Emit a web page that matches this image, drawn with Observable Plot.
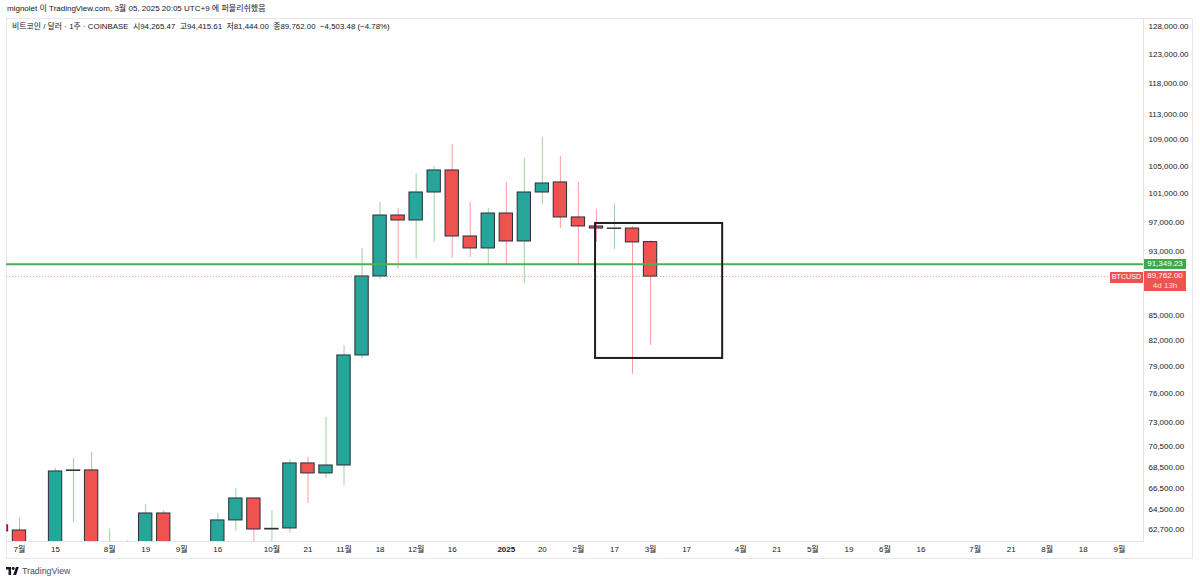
<!DOCTYPE html>
<html lang="ko">
<head>
<meta charset="utf-8">
<script src="https://cdn.jsdelivr.net/npm/d3@7"></script>
<script src="https://cdn.jsdelivr.net/npm/@observablehq/plot@0.6"></script>
<style>
  html, body { margin: 0; width: 1200px; height: 583px; overflow: hidden; background: #fff; }
  body { position: relative; font-family: "Liberation Sans", "Noto Sans CJK KR", sans-serif; color: #131722; }
  #byline { position: absolute; left: 7px; top: 4px; font-size: 8px; line-height: 10px; white-space: nowrap; }
  #chart { position: absolute; left: 6px; top: 18px; width: 1187px; height: 541px; outline: 1px solid #e6e9f0; outline-offset: -1px; }
  #legend { position: absolute; left: 6px; top: 4px; font-size: 7.9px; line-height: 10px; white-space: nowrap; }
  .tag { position: absolute; color: #fff; font-size: 8px; line-height: 10px; text-align: center; white-space: nowrap; }
  #footer { position: absolute; left: 6px; top: 565px; height: 12px; display: flex; align-items: center; gap: 3px; font-size: 8.8px; color: #4a4e59; }
</style>
</head>
<body>
<div id="byline">mignolet 이 TradingView.com, 3월 05, 2025 20:05 UTC+9 에 퍼블리쉬했음</div>
<div id="chart">
  <div id="legend">비트코인 / 달러 · 1주 · COINBASE &nbsp;시94,265.47 &nbsp;고94,415.61 &nbsp;저81,444.00 &nbsp;종89,762.00 &nbsp;−4,503.48 (−4.78%)</div>
</div>
<div id="footer">
  <svg width="13" height="8" viewBox="0 0 36 22"><path fill="#131722" d="M14 22H7V7H0V0h14v22zM28 22h-8L27.5 0h8L28 22z"/><circle fill="#131722" cx="20" cy="4" r="4"/></svg>
  <span>TradingView</span>
</div>
<script>
// weekly candles (week index, 0 = first "7월" label)
const week  = [-1, 0, 2, 3, 4, 5, 6, 7, 8, 11, 12, 13, 14, 15, 16, 17, 18, 19, 20, 21, 22, 23, 24, 25, 26, 27, 28, 29, 30, 31, 32, 33, 34, 35];
const open  = [63060, 62610, 57500, 68130, 68180, 58000, 59000, 58000, 64140, 58000, 63510, 65520, 62700, 62790, 68860, 67890, 68660, 80260, 89780, 97890, 97200, 101140, 104350, 95020, 93420, 98170, 94350, 101140, 102590, 97620, 96380, 96050, 96100, 94265.47];
const high  = [63300, 63780, 68370, 69350, 69940, 62700, 61730, 64960, 64410, 64140, 66460, 65520, 64410, 69250, 69450, 73500, 81400, 93420, 99720, 98870, 103900, 104940, 108270, 99720, 98870, 102590, 106140, 109350, 106440, 102590, 98730, 99430, 96380, 94415.61];
const low   = [62000, 55000, 55000, 63330, 58000, 55000, 55000, 56000, 56000, 56000, 62530, 60000, 58000, 62350, 65060, 67410, 66740, 79900, 89400, 90680, 91970, 94220, 92100, 92230, 91190, 91190, 88890, 99430, 96100, 91190, 94220, 93280, 78120, 81444];
const close = [62530, 57500, 68080, 68180, 60000, 60000, 58000, 64140, 58500, 63510, 65520, 62700, 62760, 68860, 67890, 68660, 80260, 89780, 97890, 97200, 101140, 104350, 95020, 93420, 98170, 94350, 101140, 102440, 97620, 96380, 96100, 96100, 94220, 89762];

const priceTicks = [128000, 123000, 118000, 113000, 109000, 105000, 101000, 97000, 93000, 85000, 82000, 79000, 76000, 73000, 70500, 68500, 66500, 64500, 62700];
const timeTicks  = [0, 2, 5, 7, 9, 11, 14, 16, 18, 20, 22, 24, 29, 31, 33, 35, 37, 40, 42, 44, 46, 48, 50, 53, 55, 57, 59, 61];
const timeLabels = ["7월", "15", "8월", "19", "9월", "16", "10월", "21", "11월", "18", "12월", "16", "20", "2월", "17", "3월", "17", "4월", "21", "5월", "19", "6월", "16", "7월", "21", "8월", "18", "9월"];
const yearTick = [27];
const yearLabel = ["2025"];

const supportLine = 91349.23;
const lastPrice = 89762;
const boxWeeks = [31.95, 39];
const boxPrices = [96790, 79920];

const candles = week.map((w, i) => ({w, open: open[i], high: high[i], low: low[i], close: close[i]}));
const up = candles.filter(d => d.close >= d.open);
const down = candles.filter(d => d.close < d.open);
const halfBody = 0.37;

const GREEN = "#26a69a", RED = "#ef5350", OUTLINE = "#2a2e39";

function wicks(data, colour) {
  return Plot.ruleX(data, {x: "w", y1: "low", y2: "high", stroke: colour, strokeOpacity: 0.55, strokeWidth: 1, clip: true});
}
function bodies(data, colour) {
  return Plot.rect(data, {
    x1: d => d.w - halfBody, x2: d => d.w + halfBody,
    y1: "open", y2: "close",
    fill: colour, stroke: OUTLINE, strokeWidth: 1, clip: true
  });
}

const plot = Plot.plot({
  width: 1187, height: 541,
  marginTop: 0, marginBottom: 18, marginLeft: 0, marginRight: 50,
  style: {fontSize: "8px", fontFamily: '"Liberation Sans", "Noto Sans CJK KR", sans-serif', color: "#131722", background: "transparent"},
  x: {type: "linear", domain: [-0.72, 62.34]},
  y: {type: "log", domain: [61640, 129460]},
  marks: [
    Plot.frame({anchor: "right", stroke: "#e0e3eb"}),
    Plot.frame({anchor: "bottom", stroke: "#e0e3eb"}),
    wicks(up, "#4caf50"),
    wicks(down, RED),
    bodies(up, GREEN),
    bodies(down, RED),
    Plot.ruleY([lastPrice], {stroke: RED, strokeOpacity: 0.6, strokeDasharray: "1,2"}),
    Plot.ruleY([supportLine], {stroke: "#4caf50", strokeWidth: 2}),
    Plot.rect([0], {x1: boxWeeks[0], x2: boxWeeks[1], y1: boxPrices[0], y2: boxPrices[1], fill: "none", stroke: "#1e1e1e", strokeWidth: 2}),
    Plot.axisY(priceTicks, {anchor: "right", tickSize: 0, tickPadding: 5, label: null, tickFormat: d3.format(",.2f")}),
    Plot.axisX(timeTicks, {anchor: "bottom", tickSize: 0, tickPadding: 5, label: null, tickFormat: d => timeLabels[timeTicks.indexOf(d)]}),
    Plot.axisX(yearTick, {anchor: "bottom", tickSize: 0, tickPadding: 5, label: null, fontWeight: "bold", tickFormat: d => yearLabel[yearTick.indexOf(d)]})
  ]
});
const chart = document.getElementById("chart");
chart.appendChild(plot);
plot.style.position = "absolute";
plot.style.left = "0";
plot.style.top = "0";

// price tags sit on the right-hand axis, placed from the y scale
const yPos = plot.scale("y").apply;
function tag(html, price, left, width, height, colour, shift, size) {
  const el = document.createElement("div");
  el.className = "tag";
  el.innerHTML = html;
  el.style.cssText = `left:${left}px;width:${width}px;top:${yPos(price) - shift}px;height:${height}px;background:${colour};font-size:${size}px`;
  chart.appendChild(el);
}
tag(d3.format(",.2f")(supportLine), supportLine, 1138, 42, 10, "#43a84a", 5, 8);
tag("BTCUSD", lastPrice, 1104, 33, 11, RED, 4.5, 7.2);
tag(d3.format(",.2f")(lastPrice) + "<br><span style='opacity:.8'>4d 13h</span>", lastPrice, 1138, 42, 20, RED, 5, 8);
</script>
</body>
</html>
